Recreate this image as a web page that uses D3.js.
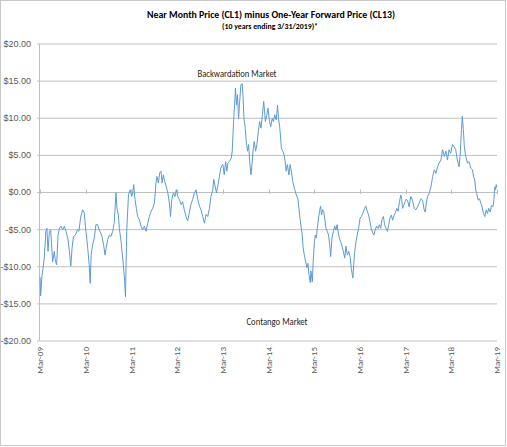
<!DOCTYPE html>
<html lang="en">
<head>
    <meta charset="UTF-8">
    <title>CL1 minus CL13</title>
    <script src="https://d3js.org/d3.v7.min.js"></script>
    <style>
        body {
            margin: 0;
            background: #ffffff;
        }
        svg {
            display: block;
            font-family: "Carlito", "Liberation Sans Narrow", "Liberation Sans", Arial, sans-serif;
        }
    </style>
</head>
<body>
<svg width="507" height="447"></svg>

<script>
    // chart text
    const titleText = "Near Month Price (CL1) minus One-Year Forward Price (CL13)";
    const subtitleText = "(10 years ending  3/31/2019)*";
    const upperNote = "Backwardation Market";
    const lowerNote = "Contango Market";

    // axis ticks
    const yTicks = [-20, -15, -10, -5, 0, 5, 10, 15, 20];
    const xTickDates = ["2009-03-31", "2010-03-31", "2011-03-31", "2012-03-31", "2013-03-31",
        "2014-03-31", "2015-03-31", "2016-03-31", "2017-03-31", "2018-03-31", "2019-03-31"];

    // spread (dates, $)
    const dates = [
        "2009-04-01", "2009-04-05", "2009-04-16", "2009-04-24", "2009-05-04", "2009-05-17", "2009-05-25",
        "2009-06-03", "2009-06-14", "2009-06-24", "2009-07-02", "2009-07-10", "2009-07-23", "2009-08-01",
        "2009-08-11", "2009-08-22", "2009-09-02", "2009-09-15", "2009-09-28", "2009-10-12", "2009-10-25",
        "2009-11-08", "2009-11-21", "2009-12-02", "2009-12-12", "2009-12-23", "2010-01-08", "2010-01-24",
        "2010-02-05", "2010-02-18", "2010-03-06", "2010-03-19", "2010-04-02", "2010-04-15", "2010-04-28",
        "2010-05-06", "2010-05-14", "2010-05-25", "2010-06-08", "2010-06-21", "2010-07-04", "2010-07-17",
        "2010-08-06", "2010-08-21", "2010-09-02", "2010-09-10", "2010-09-23", "2010-10-06", "2010-10-19",
        "2010-11-02", "2010-11-15", "2010-11-28", "2010-12-06", "2010-12-17", "2010-12-25", "2011-01-08",
        "2011-01-21", "2011-02-04", "2011-02-12", "2011-02-22", "2011-03-01", "2011-03-08",
        "2011-03-22", "2011-04-03", "2011-04-11", "2011-04-19", "2011-04-29", "2011-05-10", "2011-05-20",
        "2011-06-03", "2011-06-16", "2011-06-29", "2011-07-13", "2011-07-26", "2011-08-09", "2011-08-22",
        "2011-09-05", "2011-09-18", "2011-10-01", "2011-10-14", "2011-10-22", "2011-11-02", "2011-11-13",
        "2011-11-23", "2011-12-02", "2011-12-12", "2011-12-20", "2012-01-03", "2012-01-16", "2012-01-29",
        "2012-02-07", "2012-02-17", "2012-03-01", "2012-03-14", "2012-03-24", "2012-04-05", "2012-04-18",
        "2012-05-01", "2012-05-14", "2012-05-27", "2012-06-10", "2012-06-23", "2012-07-06", "2012-07-19",
        "2012-08-02", "2012-08-16", "2012-08-29", "2012-09-12", "2012-09-25", "2012-10-08", "2012-10-21",
        "2012-11-04", "2012-11-17", "2012-12-01", "2012-12-14", "2012-12-26", "2013-01-10", "2013-01-17",
        "2013-01-28", "2013-02-08", "2013-02-19", "2013-03-02", "2013-03-15", "2013-03-28",
        "2013-04-01", "2013-04-11", "2013-04-22", "2013-05-02", "2013-05-10", "2013-05-23", "2013-06-07",
        "2013-06-14", "2013-06-25", "2013-07-03", "2013-07-10", "2013-07-18", "2013-07-26", "2013-08-04",
        "2013-08-12", "2013-08-22", "2013-09-01", "2013-09-08", "2013-09-16", "2013-09-26", "2013-10-04",
        "2013-10-15", "2013-10-23", "2013-11-01", "2013-11-11", "2013-11-19", "2013-11-27", "2013-12-07",
        "2013-12-18", "2013-12-28", "2014-01-09", "2014-01-19", "2014-01-30", "2014-02-10", "2014-02-21",
        "2014-02-28", "2014-03-06", "2014-03-17", "2014-03-27", "2014-04-08", "2014-04-18", "2014-04-29",
        "2014-05-09", "2014-05-20", "2014-06-01", "2014-06-11", "2014-06-19", "2014-06-27", "2014-07-04",
        "2014-07-12", "2014-07-23", "2014-08-03", "2014-08-11", "2014-08-19", "2014-08-29", "2014-09-10",
        "2014-09-20", "2014-10-01", "2014-10-11", "2014-10-24", "2014-11-08", "2014-11-20", "2014-12-04",
        "2014-12-17", "2014-12-25", "2015-01-02", "2015-01-10", "2015-01-21", "2015-02-01", "2015-02-09",
        "2015-02-17", "2015-02-28", "2015-03-05",
        "2015-03-16", "2015-03-23", "2015-04-02", "2015-04-09", "2015-04-17", "2015-04-25", "2015-05-05",
        "2015-05-13", "2015-05-21", "2015-05-29", "2015-06-07", "2015-06-15", "2015-06-23", "2015-07-03",
        "2015-07-14", "2015-07-24", "2015-08-02", "2015-08-10", "2015-08-20", "2015-09-01", "2015-09-11",
        "2015-09-22", "2015-09-30", "2015-10-08", "2015-10-18", "2015-10-29", "2015-11-09", "2015-11-19",
        "2015-11-30", "2015-12-10", "2015-12-21", "2016-01-01", "2016-01-12", "2016-01-22", "2016-02-03",
        "2016-02-10", "2016-02-18", "2016-02-28", "2016-03-09", "2016-03-20", "2016-04-01", "2016-04-11",
        "2016-04-24", "2016-05-07", "2016-05-17", "2016-05-28", "2016-06-08", "2016-06-19", "2016-06-29",
        "2016-07-10", "2016-07-20", "2016-08-01", "2016-08-11", "2016-08-22", "2016-09-02", "2016-09-13",
        "2016-09-23", "2016-10-04", "2016-10-14", "2016-10-25", "2016-11-05", "2016-11-16", "2016-11-26",
        "2016-12-07", "2016-12-17", "2016-12-28", "2017-01-08", "2017-01-19", "2017-01-29", "2017-02-10",
        "2017-02-20", "2017-02-28", "2017-03-06", "2017-03-16", "2017-03-27", "2017-04-03",
        "2017-04-15", "2017-04-28", "2017-05-11", "2017-05-24", "2017-06-08", "2017-06-21", "2017-07-04",
        "2017-07-17", "2017-08-01", "2017-08-13", "2017-08-26", "2017-09-04", "2017-09-12", "2017-09-22",
        "2017-10-05", "2017-10-19", "2017-11-02", "2017-11-15", "2017-11-28", "2017-12-11", "2017-12-24",
        "2018-01-07", "2018-01-20", "2018-02-03", "2018-02-16", "2018-02-28", "2018-03-13", "2018-03-26",
        "2018-04-09", "2018-04-22", "2018-05-05", "2018-05-18", "2018-06-01", "2018-06-09", "2018-06-20",
        "2018-06-27", "2018-07-05", "2018-07-13", "2018-07-24", "2018-08-07", "2018-08-20", "2018-09-03",
        "2018-09-16", "2018-09-24", "2018-10-04", "2018-10-12", "2018-10-20", "2018-11-01", "2018-11-11",
        "2018-11-22", "2018-12-02", "2018-12-13", "2018-12-23", "2019-01-04", "2019-01-14", "2019-01-24",
        "2019-02-05", "2019-02-15", "2019-02-26", "2019-03-06", "2019-03-14", "2019-03-20", "2019-03-25",
        "2019-03-29"
    ];

    const values = [
        -11.5, -14.0, -11.2, -10.3, -8.9, -5.3, -4.9,
        -8.0, -5.3, -5.1, -7.1, -9.4, -8.0, -9.3,
        -9.8, -5.8, -4.9, -4.6, -5.1, -4.6, -5.3,
        -6.2, -8.0, -10.0, -7.6, -6.0, -5.8, -5.1,
        -5.3, -3.5, -2.4, -2.8, -5.3, -7.3, -9.8,
        -12.3, -8.5, -7.1, -6.2, -4.4, -4.4, -5.1,
        -5.8, -7.1, -8.5, -7.6, -6.4, -5.8, -6.0,
        -5.3, -4.0, -0.1, -2.2, -3.1, -4.9, -6.7,
        -8.9, -11.6, -14.1, -5.3, -2.8, -0.4,
        0.3, -0.6, -0.1, 1.0, -1.0, -2.2, -3.3,
        -3.7, -4.6, -5.1, -4.6, -5.3, -4.2, -3.3,
        -2.6, -2.2, -1.5, 1.2, 2.1, 1.2, 2.6,
        2.8, 1.2, 2.3, 1.6, 0.8, -0.1, -1.5,
        -3.3, -1.0, -0.1, -0.6, 0.3, -0.6, -1.0,
        -1.7, -1.3, -2.4, -3.3, -3.9, -2.8, -1.7,
        -1.0, -0.1, 0.3, -1.0, -1.9, -2.4, -3.3,
        -4.2, -3.0, -3.3, -2.2, -0.6, 0.3, 1.7,
        0.8, -0.1, 0.8, 1.9, 3.2, 3.7,
        3.7, 2.3, 4.1, 2.8, 3.9, 4.1, 4.6,
        5.5, 9.5, 11.7, 14.0, 11.7, 13.1, 9.9,
        12.0, 14.4, 14.6, 13.1, 9.9, 8.6, 6.8,
        5.5, 6.4, 4.1, 2.3, 3.7, 5.5, 6.8,
        5.5, 6.4, 8.2, 9.5, 8.6, 10.4, 12.2,
        10.8, 9.5, 10.3, 11.3, 9.5, 8.8, 9.9,
        9.5, 10.4, 9.7, 11.7, 9.9, 9.0, 7.7,
        5.9, 5.5, 5.0, 4.1, 2.8, 3.7, 2.3,
        3.7, 2.6, 1.4, 0.5, -0.4, -0.8, -3.0,
        -4.8, -5.7, -7.5, -8.4, -9.3, -10.2, -9.6,
        -11.1, -12.2, -10.6,
        -12.1, -9.4, -6.7, -5.8, -6.2, -4.9, -3.5,
        -2.6, -1.9, -3.1, -2.4, -2.6, -3.5, -4.9,
        -5.3, -5.8, -7.1, -8.7, -6.2, -5.3, -4.6,
        -5.1, -4.4, -5.3, -6.2, -6.7, -7.3, -8.0,
        -8.9, -7.3, -8.5, -8.0, -8.7, -10.3, -11.6,
        -9.8, -8.0, -6.7, -5.8, -4.9, -3.5, -3.3,
        -2.8, -2.2, -1.9, -2.6, -3.1, -4.0, -4.9,
        -5.5, -5.8, -5.0, -4.6, -4.9, -4.4, -4.9,
        -3.7, -3.3, -4.4, -4.9, -5.3, -4.4, -3.5,
        -3.1, -3.8, -3.2, -2.8, -2.2, -2.6, -1.3,
        -0.4, -1.0, -2.2, -1.8, -1.3, -1.0,
        -1.1, -2.0, -0.6, -1.1, -2.2, -2.4, -2.0,
        -1.5, -0.9, -1.1, -2.4, -2.7, -1.5, -0.6,
        -0.2, 0.7, 2.1, 3.0, 2.5, 3.4, 3.9,
        4.3, 5.7, 4.8, 5.5, 4.3, 5.7, 5.2,
        6.4, 6.1, 5.7, 4.3, 3.4, 4.8, 8.4,
        10.2, 8.4, 6.1, 4.8, 3.9, 4.1, 3.2,
        3.0, 2.1, 1.6, 0.3, -0.2, -1.1, -0.9,
        -1.5, -2.0, -2.9, -3.3, -2.4, -2.9, -2.2,
        -2.7, -1.8, -2.0, -1.1, 0.7, 0.3, 1.0,
        0.6
    ];

    const svg = d3.select("svg");
    const parse = d3.timeParse("%Y-%m-%d");

    const data = dates.map(function (d, i) {
        return {date: parse(d), value: values[i]};
    });

    // scales
    const x = d3.scaleTime()
        .domain([parse(xTickDates[0]), parse(xTickDates[xTickDates.length - 1])])
        .range([40, 497]);

    const y = d3.scaleLinear()
        .domain([-20, 20])
        .range([340.5, 43.5]);

    // outer chart border
    svg.append("rect")
        .attr("x", 0.5).attr("y", 0.5)
        .attr("width", 505).attr("height", 445)
        .attr("fill", "none")
        .attr("stroke", "#c9c9c9");

    // horizontal gridlines + y labels
    const yAxis = d3.axisLeft(y)
        .tickValues(yTicks)
        .tickSize(-(497 - 37))
        .tickPadding(6)
        .tickFormat(function (v) {
            return (v < 0 ? "-$" : "$") + Math.abs(v).toFixed(2);
        });

    const gy = svg.append("g")
        .attr("transform", "translate(37,0)")
        .call(yAxis);
    gy.select(".domain").remove();
    gy.selectAll(".tick line").attr("stroke", "#bfbfbf").attr("stroke-width", 1);
    gy.selectAll(".tick text")
        .attr("x", -6)
        .attr("fill", "#595959")
        .style("font-size", "9px")
        .style("font-family", "inherit");

    // vertical axis line
    svg.append("line")
        .attr("x1", 39.5).attr("x2", 39.5)
        .attr("y1", y(20)).attr("y2", y(-20))
        .attr("stroke", "#bfbfbf");

    // year ticks on the zero line
    const xTicks = xTickDates.map(parse);
    svg.append("g").selectAll("line")
        .data(xTicks)
        .enter()
        .append("line")
        .attr("x1", function (d) { return Math.round(x(d)) + 0.5; })
        .attr("x2", function (d) { return Math.round(x(d)) + 0.5; })
        .attr("y1", y(0) - 2.5)
        .attr("y2", y(0) + 2)
        .attr("stroke", "#bfbfbf");

    // x labels at the bottom, rotated
    const fmt = d3.timeFormat("%b-%y");
    svg.append("g").selectAll("text")
        .data(xTicks)
        .enter()
        .append("text")
        .attr("transform", function (d) {
            return "translate(" + x(d) + ",347) rotate(-90)";
        })
        .attr("text-anchor", "end")
        .attr("dy", "0.35em")
        .attr("fill", "#595959")
        .style("font-size", "9px")
        .text(fmt);

    // the spread line
    const line = d3.line()
        .x(function (d) { return x(d.date); })
        .y(function (d) { return y(d.value); });

    svg.append("path")
        .datum(data)
        .attr("d", line)
        .attr("fill", "none")
        .attr("stroke", "#5b9bd5")
        .attr("stroke-width", 1)
        .attr("stroke-linejoin", "round");

    // titles
    svg.append("text")
        .attr("x", 271).attr("y", 18)
        .attr("text-anchor", "middle")
        .attr("textLength", 248)
        .attr("lengthAdjust", "spacingAndGlyphs")
        .attr("font-weight", "bold")
        .attr("fill", "#000")
        .style("font-size", "10.5px")
        .text(titleText);

    svg.append("text")
        .attr("x", 270).attr("y", 29)
        .attr("text-anchor", "middle")
        .attr("textLength", 96)
        .attr("lengthAdjust", "spacingAndGlyphs")
        .attr("font-weight", "bold")
        .attr("fill", "#000")
        .style("font-size", "8px")
        .text(subtitleText);

    // market notes
    svg.append("text")
        .attr("x", 237).attr("y", 77)
        .attr("text-anchor", "middle")
        .attr("textLength", 79)
        .attr("lengthAdjust", "spacingAndGlyphs")
        .attr("fill", "#262626")
        .style("font-size", "10px")
        .text(upperNote);

    svg.append("text")
        .attr("x", 277).attr("y", 325)
        .attr("text-anchor", "middle")
        .attr("textLength", 61)
        .attr("lengthAdjust", "spacingAndGlyphs")
        .attr("fill", "#262626")
        .style("font-size", "10px")
        .text(lowerNote);
</script>
</body>
</html>
